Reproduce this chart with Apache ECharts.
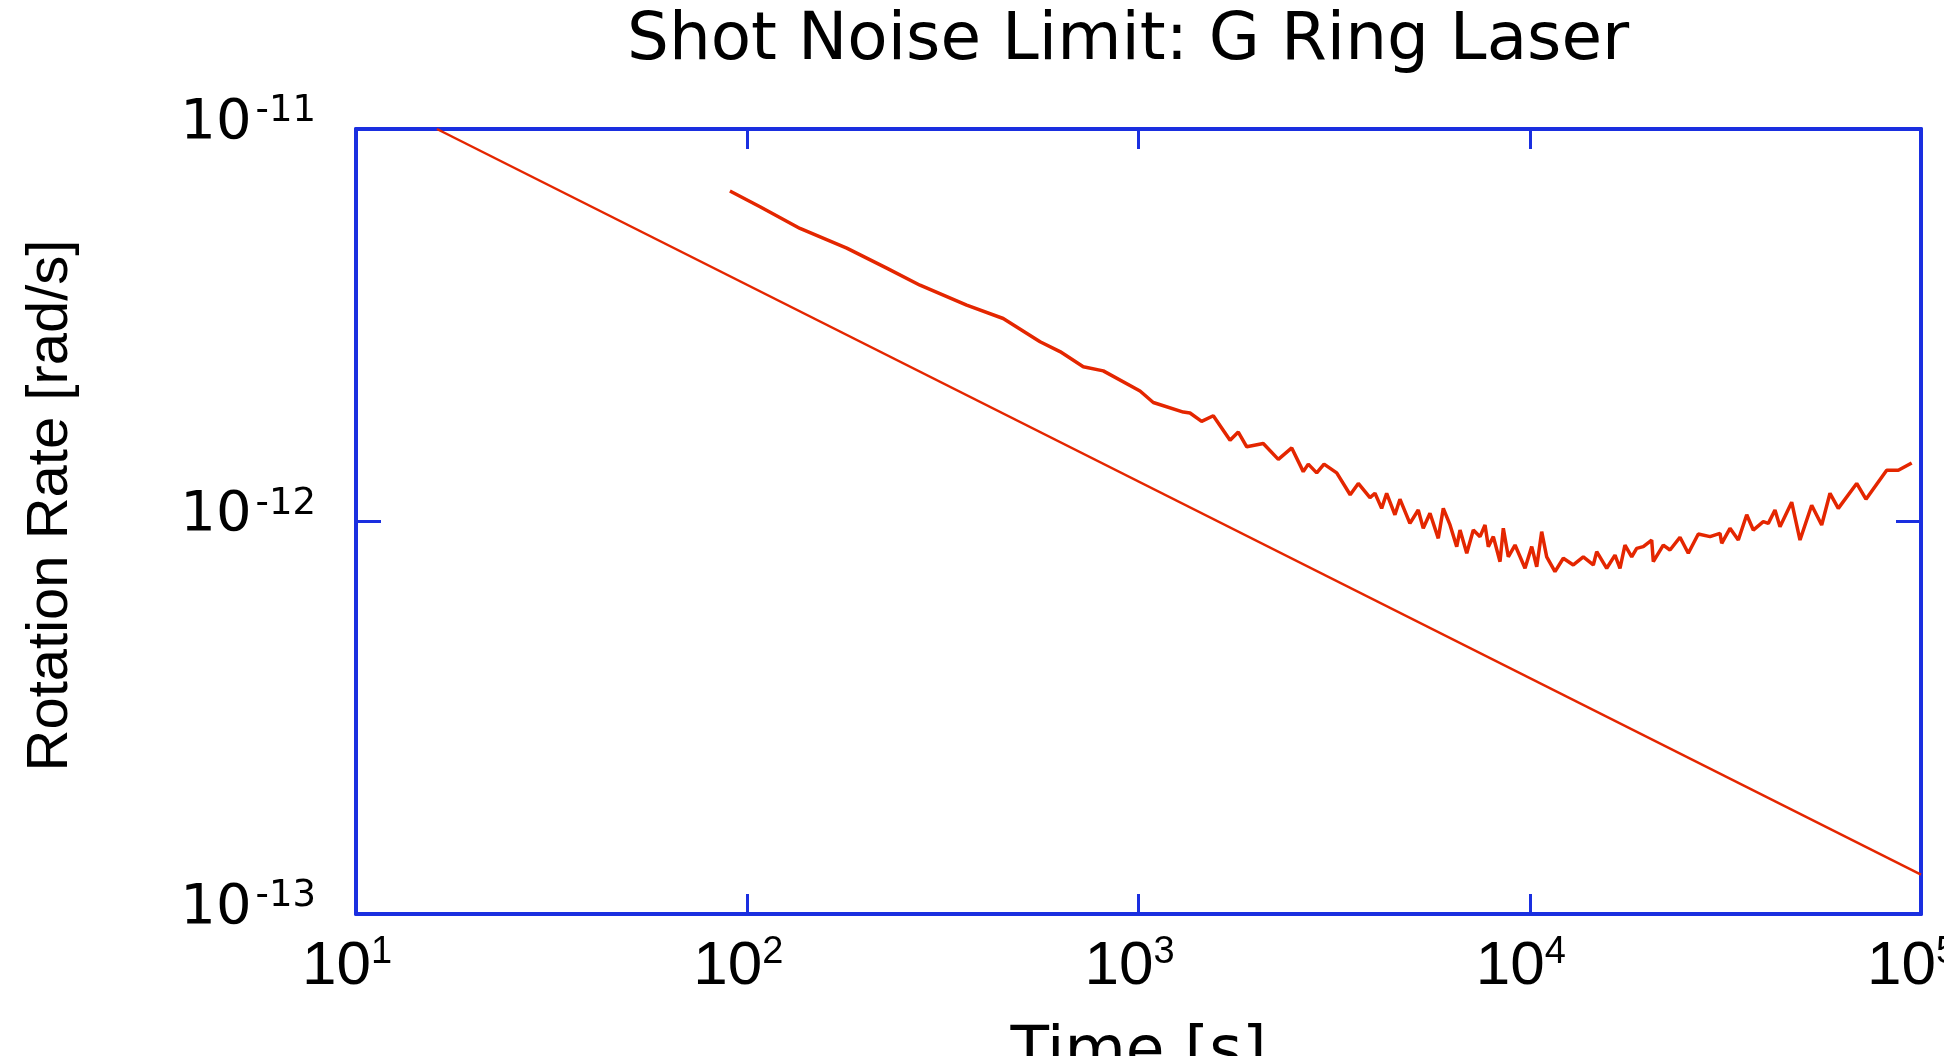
<!DOCTYPE html>
<html><head><meta charset="utf-8">
<script src="https://cdn.jsdelivr.net/npm/echarts@6/dist/echarts.min.js"></script>
<style>html,body{margin:0;padding:0;background:#fff}#c{width:1944px;height:1056px}</style>
</head><body><div id="c"></div>
<script>
// Measured Allan deviation of the G ring laser (time in s, rate in 1e-12 rad/s)
const allanTime = [90.3,107.8,136.4,179.6,227.2,276.4,363.8,451.0,560.3,630.0,
  722.6,812.8,1009,1091,1302,1354,1450,1553,1714,1799,
  1891,2084,2277,2464,2637,2716,2854,2980,
  3211,3476,3646,3905,4022,4183,4308,4523,4658,4940,
  5188,5343,5559,5837,6012,6255,6506,6634,6902,7174,
  7464,7685,7837,8070,8395,8559,8814,9170,9725,10116,
  10418,10728,11049,11601,12183,12922,13705,14536,14830,15730,
  16515,17008,17513,18222,18763,19508,20497,20692,21941,22827,
  24210,25424,26966,28892,30637,30949,32495,34124,35856,37270,
  39530,40713,42348,43615,46718,49063,52551,55740,58532,61462,
  68486,72334,81714,87498,94670];
const allanRatePico = [6.95,6.34,5.58,4.97,4.42,4.00,3.56,3.29,2.87,2.71,
  2.48,2.42,2.15,2.01,1.90,1.89,1.80,1.86,1.61,1.69,
  1.55,1.58,1.44,1.54,1.34,1.40,1.33,1.40,
  1.33,1.17,1.25,1.15,1.18,1.08,1.18,1.04,1.14,0.989,
  1.07,0.961,1.05,0.906,1.08,0.980,0.863,0.951,0.830,0.951,
  0.915,0.980,0.863,0.915,0.790,0.961,0.813,0.871,0.760,0.863,
  0.767,0.942,0.813,0.745,0.806,0.775,0.813,0.775,0.838,0.760,
  0.821,0.760,0.871,0.813,0.854,0.863,0.897,0.790,0.871,0.846,
  0.912,0.830,0.929,0.915,0.933,0.880,0.961,0.897,1.04,0.951,
  0.999,0.989,1.07,0.970,1.12,0.897,1.10,0.980,1.18,1.08,
  1.25,1.14,1.35,1.35,1.41];
// Shot noise limit line (end points)
const shotTime = [16.1, 100000];
const shotRate = [1.0e-11, 1.26e-13];
// Tick label exponents
const xTickExponents = [1, 2, 3, 4, 5];
const yTickExponents = [-13, -12, -11];

const BLUE = '#1a2fe0', RED = '#e42600';
const allanData = allanTime.map((t, i) => [t, allanRatePico[i] * 1e-12]);
const shotData = shotTime.map((t, i) => [t, shotRate[i]]);
function expOf(v) { return Math.round(Math.log10(v)); }

const axisLineStyle = { show: true, onZero: false, lineStyle: { color: BLUE, width: 4 } };
const chart = echarts.init(document.getElementById('c'), null, { renderer: 'canvas' });
chart.setOption({
  animation: false,
  backgroundColor: '#fff',
  title: {
    text: 'Shot Noise Limit: G Ring Laser',
    left: 622, top: 4,
    textStyle: { fontFamily: 'DejaVu Sans', fontSize: 66, fontWeight: 'normal', color: '#000' }
  },
  grid: { left: 356, right: 23, top: 129, bottom: 142, containLabel: false, outerBoundsMode: 'none' },
  xAxis: [{
    type: 'log', logBase: 10, min: 10, max: 100000, position: 'bottom',
    axisLine: axisLineStyle,
    axisTick: { show: true, inside: true, length: 20, lineStyle: { color: BLUE, width: 3 } },
    minorTick: { show: false }, splitLine: { show: false },
    axisLabel: {
      margin: 20, padding: [0, 18, 0, 0],
      formatter: v => { const e = expOf(v); return xTickExponents.includes(e) ? '{b|10}{s|' + e + '}' : ''; },
      rich: {
        b: { fontFamily: 'Liberation Sans', fontSize: 62, color: '#000', verticalAlign: 'bottom', lineHeight: 64 },
        s: { fontFamily: 'Liberation Sans', fontSize: 38, color: '#000', verticalAlign: 'top', lineHeight: 40 }
      }
    },
    name: 'Time [s]', nameLocation: 'middle', nameGap: 108,
    nameTextStyle: { fontFamily: 'DejaVu Sans', fontSize: 63, color: '#000' }
  }, {
    type: 'log', logBase: 10, min: 10, max: 100000, position: 'top',
    axisLine: axisLineStyle,
    axisTick: { show: true, inside: true, length: 20, lineStyle: { color: BLUE, width: 3 } },
    axisLabel: { show: false }, splitLine: { show: false }
  }],
  yAxis: [{
    type: 'log', logBase: 10, min: 1e-13, max: 1e-11, position: 'left',
    axisLine: axisLineStyle,
    axisTick: { show: true, inside: true, length: 25, lineStyle: { color: BLUE, width: 3 } },
    minorTick: { show: false }, splitLine: { show: false },
    axisLabel: {
      margin: 40, padding: [0, 0, 14, 0],
      formatter: v => { const e = expOf(v); return yTickExponents.includes(e) ? '{b|10}{s|' + e + '}' : ''; },
      rich: {
        b: { fontFamily: 'DejaVu Sans', fontSize: 56, color: '#000', verticalAlign: 'bottom', lineHeight: 58 },
        s: { fontFamily: 'DejaVu Sans', fontSize: 37, color: '#000', verticalAlign: 'top', lineHeight: 36, padding: [0, 0, 0, 4] }
      }
    },
    name: 'Rotation Rate [rad/s]', nameLocation: 'middle', nameRotate: 90, nameGap: 276,
    nameTextStyle: { fontFamily: 'Liberation Sans', fontSize: 58, color: '#000', padding: [0, 0, 0, 32] }
  }, {
    type: 'log', logBase: 10, min: 1e-13, max: 1e-11, position: 'right',
    axisLine: axisLineStyle,
    axisTick: { show: true, inside: true, length: 25, lineStyle: { color: BLUE, width: 3 } },
    axisLabel: { show: false }, splitLine: { show: false }
  }],
  series: [{
    name: 'Shot noise limit', type: 'line', xAxisIndex: 0, yAxisIndex: 0,
    data: shotData, showSymbol: false, clip: true,
    lineStyle: { color: RED, width: 2.5 }
  }, {
    name: 'Measured', type: 'line', xAxisIndex: 0, yAxisIndex: 0,
    data: allanData, showSymbol: false, clip: true,
    lineStyle: { color: RED, width: 3.5 }
  }]
});
</script></body></html>
